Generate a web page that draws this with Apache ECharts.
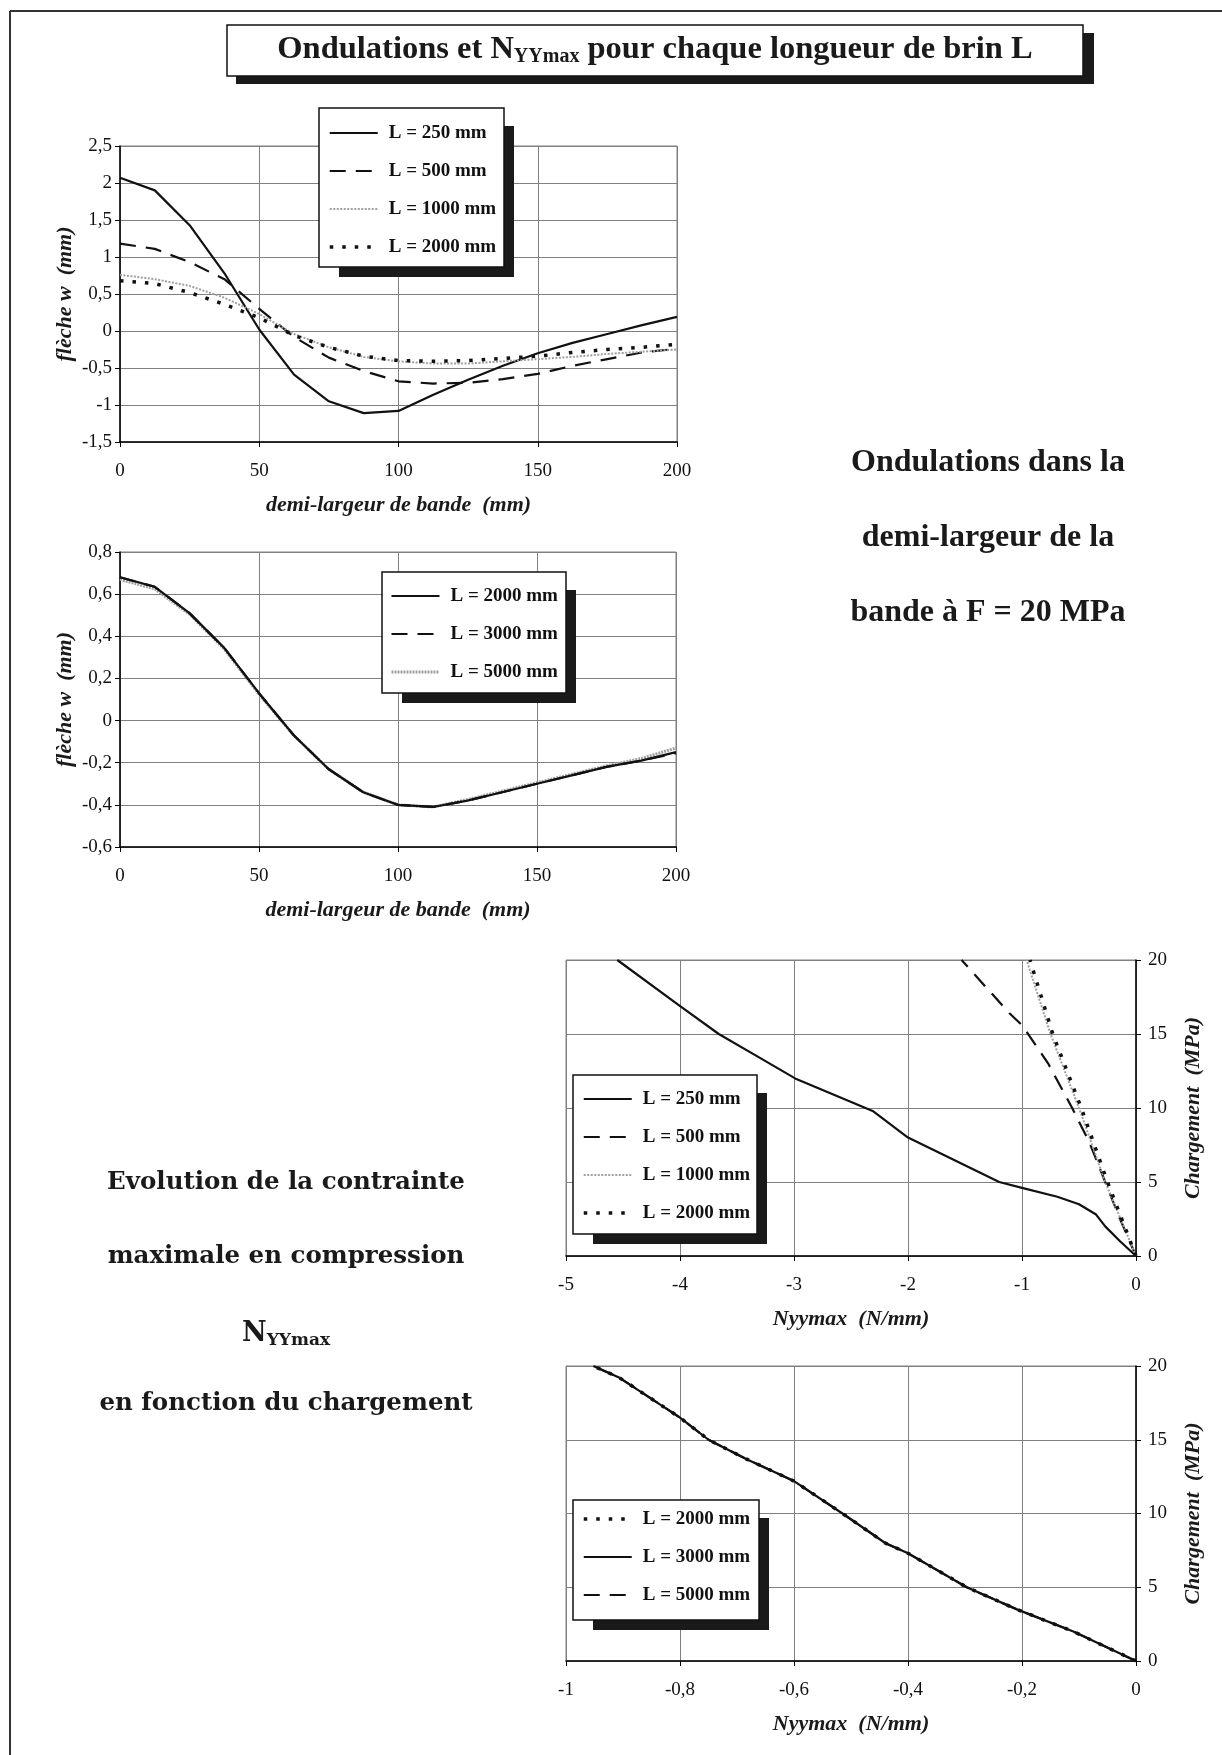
<!DOCTYPE html>
<html><head><meta charset="utf-8">
<script src="https://cdn.jsdelivr.net/npm/echarts@6/dist/echarts.min.js"></script>
<style>html,body{margin:0;padding:0;background:#fff;}#c{width:1222px;height:1755px;}</style>
</head><body><div id="c"></div>
<script>
// ---- Chart 1 & 2 : half band width (mm) vs deflection w (mm)
const halfWidth = [0,12.5,25,37.5,50,62.5,75,87.5,100,112.5,125,137.5,150,162.5,175,187.5,200];
const w250  = [2.07,1.90,1.43,0.78,0.02,-0.59,-0.95,-1.11,-1.08,-0.86,-0.66,-0.47,-0.30,-0.16,-0.04,0.08,0.19];
const w500  = [1.18,1.11,0.93,0.70,0.30,-0.08,-0.36,-0.54,-0.68,-0.71,-0.70,-0.65,-0.58,-0.47,-0.38,-0.29,-0.24];
const w1000 = [0.76,0.70,0.61,0.45,0.23,-0.04,-0.22,-0.35,-0.41,-0.44,-0.44,-0.41,-0.38,-0.35,-0.31,-0.28,-0.25];
const w2000 = [0.68,0.64,0.52,0.36,0.18,-0.06,-0.22,-0.34,-0.40,-0.41,-0.40,-0.37,-0.34,-0.29,-0.25,-0.22,-0.18];
const v2000 = [0.68,0.635,0.51,0.345,0.13,-0.07,-0.23,-0.34,-0.40,-0.41,-0.38,-0.34,-0.30,-0.26,-0.22,-0.19,-0.15];
const v3000 = [0.68,0.635,0.51,0.345,0.13,-0.07,-0.23,-0.34,-0.40,-0.41,-0.38,-0.34,-0.30,-0.26,-0.22,-0.19,-0.155];
const v5000 = [0.67,0.625,0.505,0.34,0.125,-0.07,-0.23,-0.34,-0.40,-0.41,-0.375,-0.335,-0.295,-0.255,-0.215,-0.18,-0.13];

// ---- Chart 3 : Nyymax (N/mm) vs load (MPa)
const nyy250  = [0,-0.14,-0.27,-0.35,-0.50,-0.69,-1.0,-1.2,-1.6,-2.0,-2.31,-2.99,-3.28,-3.66,-4.02,-4.55];
const load250 = [0,1,2,2.8,3.5,4,4.6,5,6.5,8,9.8,12,13.3,15,17,20];
const nyy500  = [0,-0.14,-0.27,-0.41,-0.56,-0.77,-1.0,-1.11,-1.53];
const load500 = [0,2.5,5,7.7,10,13,15.6,16.4,20];
const nyy1000  = [0,-0.27,-0.50,-0.75,-0.96];
const load1000 = [0,5,10,15,20];
const nyy2000  = [0,-0.25,-0.48,-0.73,-0.93];
const load2000 = [0,5,10,15,20];

// ---- Chart 4 : long strands (all curves coincide)
const nyyLong  = [0,-0.11,-0.209,-0.297,-0.40,-0.44,-0.515,-0.60,-0.684,-0.75,-0.80,-0.906,-0.952];
const loadLong = [0,2,3.5,5,7.3,8,10,12.2,13.7,15,16.5,19.2,20];

// tick labels
const xTicks1 = [0,50,100,150,200];
const yTicks1 = [-1.5,-1,-0.5,0,0.5,1,1.5,2,2.5];
const yTicks2 = [-0.6,-0.4,-0.2,0,0.2,0.4,0.6,0.8];
const xTicks3 = [-5,-4,-3,-2,-1,0];
const xTicks4 = [-1,-0.8,-0.6,-0.4,-0.2,0];
const yTicks3 = [0,5,10,15,20];

const SERIF = 'Liberation Serif';
const fmt = v => String(Math.round(v*1000)/1000).replace('.', ',');
const pairs = (xs, ys) => xs.map((x,i)=>[x, ys[i]]);

const nameStyle = {fontFamily:SERIF, fontWeight:'bold', fontStyle:'italic', fontSize:22, color:'#1a1a1a'};
function axis(grid, ticks, opts) {
  return Object.assign({
    gridIndex: grid, type:'value',
    min: ticks[0], max: ticks[ticks.length-1], interval: ticks[1]-ticks[0],
    axisLine:{show:true, onZero:false, lineStyle:{color:'#000', width:1.5}},
    axisTick:{show:true, inside:false, length:5, lineStyle:{color:'#000', width:1}},
    splitLine:{show:true, lineStyle:{color:'#808080', width:1}},
    nameLocation:'middle', nameTextStyle:nameStyle
  }, opts);
}
const lab = m => ({color:'#111', fontFamily:SERIF, fontSize:19, margin:m, formatter:fmt});

const SOLID  = {color:'#111', width:2.2, type:'solid'};
const DASH   = {color:'#111', width:2.2, type:[16,10]};
const GREY   = {color:'#a0a0a0', width:2, type:[2,1.5]};
const GREYW  = {color:'#a0a0a0', width:3, type:[2,1]};
const DOT    = {color:'#111', width:3.5, type:[3.5,9]};

function line(name, xi, data, ls, z) {
  return {type:'line', name, xAxisIndex:xi, yAxisIndex:xi, data, symbol:'none', showSymbol:false,
          lineStyle:ls, itemStyle:{color:ls.color}, z:z||2, silent:true, animation:false};
}

// unique names per chart (trailing spaces trimmed by legend formatter)
const sfx = ['', ' ', '  ', '   '];
const series = [
  line('L = 250 mm',  0, pairs(halfWidth, w250),  SOLID),
  line('L = 500 mm',  0, pairs(halfWidth, w500),  DASH),
  line('L = 1000 mm', 0, pairs(halfWidth, w1000), GREY),
  line('L = 2000 mm', 0, pairs(halfWidth, w2000), DOT),
  line('L = 5000 mm'+sfx[1], 1, pairs(halfWidth, v5000), GREYW, 1),
  line('L = 3000 mm'+sfx[1], 1, pairs(halfWidth, v3000), DASH),
  line('L = 2000 mm'+sfx[1], 1, pairs(halfWidth, v2000), SOLID),
  line('L = 250 mm'+sfx[2],  2, pairs(nyy250, load250),  SOLID),
  line('L = 500 mm'+sfx[2],  2, pairs(nyy500, load500),  DASH),
  line('L = 1000 mm'+sfx[2], 2, pairs(nyy1000, load1000), GREY),
  line('L = 2000 mm'+sfx[2], 2, pairs(nyy2000, load2000), DOT),
  line('L = 2000 mm'+sfx[3], 3, pairs(nyyLong, loadLong), DOT),
  line('L = 3000 mm'+sfx[3], 3, pairs(nyyLong, loadLong), SOLID),
  line('L = 5000 mm'+sfx[3], 3, pairs(nyyLong, loadLong), DASH)
];

function legend(left, top, names) {
  return {orient:'vertical', left, top, padding:0, itemWidth:48, itemHeight:14, itemGap:18,
    data:names, formatter:n=>n.trim(), selectedMode:false, z:20, backgroundColor:'transparent',
    lineStyle:{width:'inherit'},
    itemStyle:{color:'rgba(0,0,0,0)', borderColor:'rgba(0,0,0,0)', borderWidth:0},
    textStyle:{fontFamily:SERIF, fontWeight:'bold', fontSize:19, color:'#111', lineHeight:20, padding:[0,0,0,6]}};
}

function box(x, y, w, h) {
  return [
    {type:'rect', z:10, silent:true, shape:{x:x+20, y:y+18, width:w-10, height:h-8}, style:{fill:'#1a1a1a'}},
    {type:'rect', z:11, silent:true, shape:{x, y, width:w, height:h}, style:{fill:'#fff', stroke:'#111', lineWidth:1.5}}
  ];
}
function txt(x, y, text, size, fam) {
  return {type:'text', z:5, silent:true, style:{x, y, text, align:'center', verticalAlign:'middle',
    fontFamily:fam||SERIF, fontWeight:'bold', fontSize:size, fill:'#1a1a1a'}};
}

const graphic = [
  {type:'line', silent:true, shape:{x1:10, y1:11, x2:1222, y2:11}, style:{stroke:'#333', lineWidth:2}},
  {type:'line', silent:true, shape:{x1:10, y1:11, x2:10, y2:1755}, style:{stroke:'#333', lineWidth:2}},
  {type:'rect', silent:true, shape:{x:236, y:33, width:858, height:51}, style:{fill:'#1a1a1a'}},
  {type:'rect', silent:true, shape:{x:227, y:25, width:856, height:51}, style:{fill:'#fff', stroke:'#111', lineWidth:1.5}},
  {type:'text', silent:true, z:5, style:{x:655, y:50, align:'center', verticalAlign:'middle',
    text:'{a|Ondulations et N}{b|YYmax}{a| pour chaque longueur de brin L}',
    rich:{a:{fontFamily:SERIF, fontWeight:'bold', fontSize:32.5, fill:'#1a1a1a'},
          b:{fontFamily:SERIF, fontWeight:'bold', fontSize:20, fill:'#1a1a1a', padding:[14,0,0,0]}}}},
  ...box(319, 108, 185, 159),
  ...box(382, 572, 184, 121),
  ...box(573, 1075, 184, 159),
  ...box(573, 1500, 186, 120),
  txt(988, 463, 'Ondulations dans la', 32),
  txt(988, 538, 'demi-largeur de la', 32),
  txt(988, 613, 'bande à F = 20 MPa', 32),
  txt(286, 1183, 'Evolution de la contrainte', 24.5, 'DejaVu Serif'),
  txt(286, 1257, 'maximale en compression', 24.5, 'DejaVu Serif'),
  {type:'text', silent:true, z:5, style:{x:286, y:1334, align:'center', verticalAlign:'middle',
    text:'{n|N}{s|YYmax}',
    rich:{n:{fontFamily:'DejaVu Serif', fontWeight:'bold', fontSize:27, fill:'#1a1a1a'},
          s:{fontFamily:'DejaVu Serif', fontWeight:'bold', fontSize:17, fill:'#1a1a1a', padding:[13,0,0,0]}}}},
  txt(286, 1404, 'en fonction du chargement', 24.5, 'DejaVu Serif')
];

const gridBase = {show:true, borderColor:'#808080', borderWidth:1, backgroundColor:'#fff'};
const option = {
  backgroundColor:'#fff', animation:false,
  grid:[
    Object.assign({left:120, top:146, width:557, height:296}, gridBase),
    Object.assign({left:120, top:552, width:556, height:295}, gridBase),
    Object.assign({left:566, top:960, width:570, height:296}, gridBase),
    Object.assign({left:566, top:1366, width:570, height:295}, gridBase)
  ],
  xAxis:[
    axis(0, xTicks1, {position:'bottom', name:'demi-largeur de bande  (mm)', nameGap:52, axisLabel:lab(20)}),
    axis(1, xTicks1, {position:'bottom', name:'demi-largeur de bande  (mm)', nameGap:52, axisLabel:lab(20)}),
    axis(2, xTicks3, {position:'bottom', name:'Nyymax  (N/mm)', nameGap:52, axisLabel:lab(20)}),
    axis(3, xTicks4, {position:'bottom', name:'Nyymax  (N/mm)', nameGap:52, axisLabel:lab(20)})
  ],
  yAxis:[
    axis(0, yTicks1, {position:'left', name:'flèche w  (mm)', nameGap:44, axisLabel:lab(8)}),
    axis(1, yTicks2, {position:'left', name:'flèche w  (mm)', nameGap:44, axisLabel:lab(8)}),
    axis(2, yTicks3, {position:'right', name:'Chargement  (MPa)', nameGap:46, axisLabel:lab(12)}),
    axis(3, yTicks3, {position:'right', name:'Chargement  (MPa)', nameGap:46, axisLabel:lab(12)})
  ],
  legend:[
    legend(328, 123, ['L = 250 mm','L = 500 mm','L = 1000 mm','L = 2000 mm']),
    legend(390, 586, ['L = 2000 mm'+sfx[1],'L = 3000 mm'+sfx[1],'L = 5000 mm'+sfx[1]]),
    legend(582, 1089, ['L = 250 mm'+sfx[2],'L = 500 mm'+sfx[2],'L = 1000 mm'+sfx[2],'L = 2000 mm'+sfx[2]]),
    legend(582, 1509, ['L = 2000 mm'+sfx[3],'L = 3000 mm'+sfx[3],'L = 5000 mm'+sfx[3]])
  ],
  graphic,
  series
};
const chart = echarts.init(document.getElementById('c'), null, {renderer:'canvas'});
chart.setOption(option);
</script></body></html>
